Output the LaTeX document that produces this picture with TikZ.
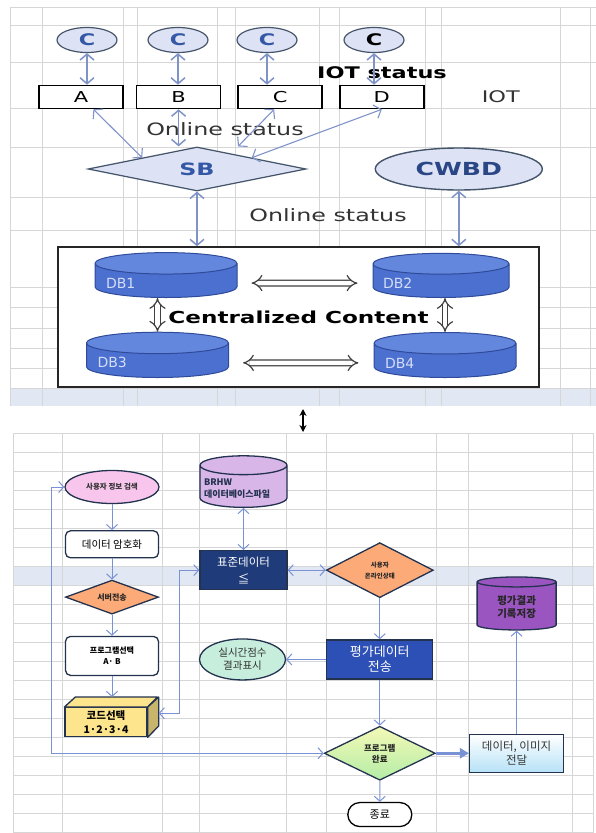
\documentclass[tikz,border=0pt]{standalone}
\usepackage{fontspec}
\newfontfamily\krfont{Noto Sans CJK KR}
\newfontfamily\enfont{DejaVu Sans}[FakeStretch=1.4]
\newfontfamily\dbfont{DejaVu Sans}
\newcommand{\krsize}[2]{\krfont\fontsize{#1}{#2}\selectfont}
\newcommand{\ensize}[2]{\enfont\fontsize{#1}{#2}\selectfont}
\usetikzlibrary{shapes,arrows,arrows.meta,positioning}

\definecolor{gridgray}{HTML}{D6D6D6}
\definecolor{bandblue}{HTML}{E1E7F3}
\definecolor{linkblue}{HTML}{7F93C9}
\definecolor{flowblue}{HTML}{7991D5}
\definecolor{paleblue}{HTML}{DDE3F5}
\definecolor{slate}{HTML}{44546A}
\definecolor{labelblue}{HTML}{3457A6}
\definecolor{dbbody}{HTML}{4B70D0}
\definecolor{dbtop}{HTML}{6487DE}
\definecolor{dbedge}{HTML}{2E4A98}
\definecolor{dbtext}{HTML}{D3DDF5}
\definecolor{navyedge}{HTML}{23324F}
\definecolor{pinkfill}{HTML}{F8C5EC}
\definecolor{orangefill}{HTML}{FBAA78}
\definecolor{lilacfill}{HTML}{D8B6E8}
\definecolor{navyfill}{HTML}{1F3B7A}
\definecolor{purplefill}{HTML}{9B55C1}
\definecolor{mintfill}{HTML}{C7EEDC}
\definecolor{royalfill}{HTML}{2D50B6}
\definecolor{yellowfill}{HTML}{FDE58D}
\definecolor{yellowside}{HTML}{C8B46B}
\definecolor{limefill}{HTML}{F4F9B6}
\definecolor{greenfill}{HTML}{B4EDA7}
\definecolor{skyfill}{HTML}{B7E2F7}

\tikzstyle{gridline}=[draw=gridgray,line width=0.6pt]
\tikzstyle{plain}=[inner sep=0pt,text=black!80,font=\ensize{16}{18}]
\tikzstyle{cnode}=[ellipse,draw=slate,fill=paleblue,line width=1.2pt,inner sep=0pt,minimum width=60pt,minimum height=25pt,text=labelblue,font=\ensize{16}{18}\bfseries]
\tikzstyle{iotbox}=[rectangle,draw=black,line width=1.6pt,fill=white,inner sep=0pt,minimum width=84pt,minimum height=23pt,font=\ensize{15}{18}]
\tikzstyle{hub}=[diamond,aspect=2,draw=slate,fill=paleblue,line width=1.2pt,inner sep=0pt,minimum width=218pt,minimum height=44pt,text=labelblue,font=\ensize{17}{20}\bfseries]
\tikzstyle{bigoval}=[ellipse,draw=slate,fill=paleblue,line width=1.4pt,inner sep=0pt,minimum width=167pt,minimum height=42pt,text=labelblue!80!black,font=\ensize{18}{20}\bfseries]
\tikzstyle{container}=[rectangle,draw=black!85,line width=1.5pt,fill=white,minimum width=481pt,minimum height=140pt,font=\ensize{16.5}{18}\bfseries]
\tikzstyle{database}=[cylinder,shape border rotate=90,aspect=0.16,draw=dbedge,line width=1pt,cylinder uses custom fill,cylinder body fill=dbbody,cylinder end fill=dbtop,minimum width=142pt,minimum height=38pt,inner xsep=7pt,text width=120pt,align=left,anchor=south,text=dbtext,font=\dbfont\fontsize{14}{16}\selectfont]
\tikzstyle{toplink}=[<->,>={Straight Barb[length=6pt,width=14pt]},line width=1.5pt,draw=linkblue]
\tikzstyle{hollow}=[<->,>=Implies,double=white,double distance=4.5pt,line width=1.2pt,draw=black!75]
\tikzstyle{updown}=[<->,>={Stealth[length=7pt,width=7pt]},line width=1.3pt,draw=black]

\tikzstyle{flowbox}=[rectangle,draw=navyedge,line width=1.3pt,inner sep=2pt,align=center,font=\krfont]
\tikzstyle{roundbox}=[flowbox,fill=white,rounded corners=5pt]
\tikzstyle{decision}=[diamond,aspect=2,draw=navyedge,line width=1.3pt,fill=orangefill,inner sep=0pt,align=center,text=black!85,font=\krfont\bfseries]
\tikzstyle{oval}=[ellipse,draw=navyedge,line width=1.3pt,inner sep=0pt,align=center,text=black!80,font=\krfont]
\tikzstyle{store}=[cylinder,shape border rotate=90,aspect=0.22,draw=navyedge,line width=1.3pt,align=center,text=navyedge,font=\krfont\bfseries]
\tikzstyle{terminal}=[rounded rectangle,draw=black,line width=1.3pt,fill=white,inner sep=0pt,font=\krfont]
\tikzstyle{flow}=[->,>={Straight Barb[length=5pt,width=11pt]},line width=1pt,draw=flowblue]
\tikzstyle{bigflow}=[->,>={Triangle[length=9pt,width=10pt]},line width=2.8pt,draw=flowblue]

\begin{document}
\begin{tikzpicture}[x=1pt,y=-1pt]
    \useasboundingbox (0,0) rectangle (596,833);

    % Tabellen
    \fill[bandblue] (10,388) rectangle (596,406);
    \foreach \gx in {10,42,123,137,217,235,319,339,425,441,560,590} \draw[gridline] (\gx,7) -- (\gx,406);
    \foreach \gy in {7,25,62,108,147,197,230,287,307,328,348,368,388} \draw[gridline] (10,\gy) -- (596,\gy);
    \fill[bandblue] (13,567) rectangle (593,585);
    \foreach \gx in {13,62,162,199,286,326,436,468,572,593} \draw[gridline] (\gx,433) -- (\gx,833);
    \foreach \gy in {433,452,...,833} \draw[gridline] (13,\gy) -- (593,\gy);

    % Knoten oben
    \node[cnode] (c1) at (87,40) {C};
    \node[cnode] (c2) at (178,40) {C};
    \node[cnode] (c3) at (267,40) {C};
    \node[cnode,text=black] (c4) at (374,40) {C};
    \node[iotbox] (A) at (81,97) {A};
    \node[iotbox] (B) [right=12pt of A] {B};
    \node[iotbox] (C) [right=16pt of B] {C};
    \node[iotbox] (D) [right=16pt of C] {D};
    \node[plain,text=black,font=\ensize{16}{18}\bfseries] (iotstatus) at (382,73) {IOT status};
    \node[plain] (iot) [right=57pt of D] {IOT};
    \node[plain,font=\ensize{17}{20}] (online1) at (225,129) {Online status};
    \node[hub] (SB) at (197,169) {SB};
    \node[bigoval] (CWBD) [right=68pt of SB] {CWBD};
    \node[plain,font=\ensize{17}{20}] (online2) at (328,215) {Online status};
    \node[container] (cc) at (298.5,317) {Centralized Content};
    \node[database] (db1) at (166,298) {DB1};
    \node[database,minimum width=136pt,text width=116pt] (db2) at (441,298) {DB2};
    \node[database,minimum height=45pt] (db3) at (157.5,378) {DB3};
    \node[database,minimum height=45pt] (db4) at (445,378) {DB4};

    % Verbindungen oben
    \draw[toplink] (c1.south) -- (c1.south |- A.north);
    \draw[toplink] (c2.south) -- (c2.south |- B.north);
    \draw[toplink] (c3.south) -- (c3.south |- C.north);
    \draw[toplink] (c4.south) -- (c4.south |- D.north);
    \draw[toplink,line width=1.1pt] (A) -- (SB.north west);
    \draw[toplink] (B) -- (B |- SB.north);
    \draw[toplink,line width=1.1pt] ([xshift=-6pt]C.south) -- ([xshift=41pt]SB.north);
    \draw[toplink,line width=1.1pt] (D.south) -- (SB.north east);
    \draw[toplink] (SB) -- (SB |- cc.north);
    \draw[toplink] (CWBD) -- (CWBD |- cc.north);
    \draw[hollow,shorten <=14pt,shorten >=15pt] (db1) -- (db2);
    \draw[hollow,shorten <=14pt,shorten >=15pt] (db3) -- (db4);
    \draw[hollow] (db1.south -| db3) -- (db3.north);
    \draw[hollow] (db2.south -| db4) -- (db4.north);

    \coordinate (sheet1) at (303,409);
    \coordinate (sheet2) at (303,432);
    \draw[updown] (sheet1) -- (sheet2);

    % Knoten unten
    \node[oval,fill=pinkfill,minimum width=94pt,minimum height=33pt,font=\krsize{7.5}{9}\bfseries] (user) at (112,487) {사용자 정보 검색};
    \node[roundbox,minimum width=93pt,minimum height=27pt,font=\krsize{10.5}{12}] (enc) [below=26pt of user] {데이터 암호화};
    \node[decision,minimum width=93pt,minimum height=34pt,font=\krsize{8}{10}\bfseries] (srv) [below=21pt of enc] {서버전송};
    \node[roundbox,minimum width=93pt,minimum height=39pt,font=\krsize{8}{11}\bfseries] (prog) [below=21pt of srv] {프로그램선택\\A· B};
    \node[flowbox,fill=yellowfill,minimum width=82pt,minimum height=29pt,font=\krsize{10.5}{14}\bfseries] (code) [below=31pt of prog,xshift=-6pt] {코드선택\\1·2·3·4};
    \node[store,fill=lilacfill,minimum width=87pt,minimum height=46pt,text width=79pt,align=left,anchor=south,font=\krsize{9}{12}\bfseries] (brhw) at (243.5,508) {BRHW\\데이터베이스파일};
    \node[flowbox,fill=navyfill,text=white,minimum width=87pt,minimum height=39pt,font=\krsize{11.5}{17}] (std) [below=42pt of brhw] {표준데이터\\≦};
    \node[decision,minimum width=107pt,minimum height=55pt,font=\krsize{6.5}{11}\bfseries] (online) [right=38pt of std] {사용자\\온라인상태};
    \node[flowbox,fill=royalfill,text=white,minimum width=106pt,minimum height=39pt,font=\krsize{13}{15}] (eval) [below=41pt of online] {평가데이터\\전송};
    \node[oval,fill=mintfill,minimum width=86pt,minimum height=41pt,font=\krsize{10.5}{13}] (score) [left=40pt of eval] {실시간점수\\결과표시};
    \node[decision,top color=limefill,bottom color=greenfill,minimum width=111pt,minimum height=54pt,font=\krsize{8.5}{11}\bfseries] (done) [below=46pt of eval] {프로그램\\완료};
    \node[flowbox,top color=white,bottom color=skyfill,text=black!80,minimum width=94pt,minimum height=38pt,font=\krsize{11.5}{14}] (send) [right=33pt of done] {데이터, 이미지\\전달};
    \node[store,fill=purplefill,minimum width=79pt,minimum height=53pt,text=black!85,font=\krsize{10.5}{13}\bfseries] (result) [above=103pt of send] {평가결과\\기록저장};
    \node[terminal,minimum width=64pt,minimum height=24pt,font=\krsize{11}{13}] (finish) [below=21pt of done] {종료};

    % Quader
    \filldraw[fill=yellowfill,draw=navyedge,line width=1.3pt,line join=round] (code.north west) -- ++(11,-10) -- ++(82,0) -- (code.north east) -- cycle;
    \filldraw[fill=yellowside,draw=navyedge,line width=1.3pt,line join=round] (code.north east) -- ++(11,-10) -- ++(0,29) -- (code.south east) -- cycle;
    \coordinate (codetop) at ([yshift=10pt]code.north);
    \coordinate (codeside) at ([xshift=11pt,yshift=9pt]code.east);

    % Verbindungen unten
    \draw[flow] (user) -- (enc);
    \draw[flow] (enc) -- (srv);
    \draw[flow] (srv) -- (prog);
    \draw[flow] (prog) -- (prog |- codetop);
    \draw[flow,<->] (brhw) -- (std);
    \draw[flow,<->] (std) -- (online);
    \draw[flow] (online) -- (eval);
    \draw[flow] (eval) -- (score);
    \draw[flow] (eval.south -| done) -- (done);
    \draw[flow] (done) -- (finish);
    \draw[bigflow] (done) -- (send);
    \draw[flow] (send) -- (result);
    \draw[flow,<->] (std.west) -- ++(-20,0) |- (codeside);
    \draw[flow,<->] (user.west) -- ++(-13,0) |- (done.west);

\end{tikzpicture}
\end{document}
